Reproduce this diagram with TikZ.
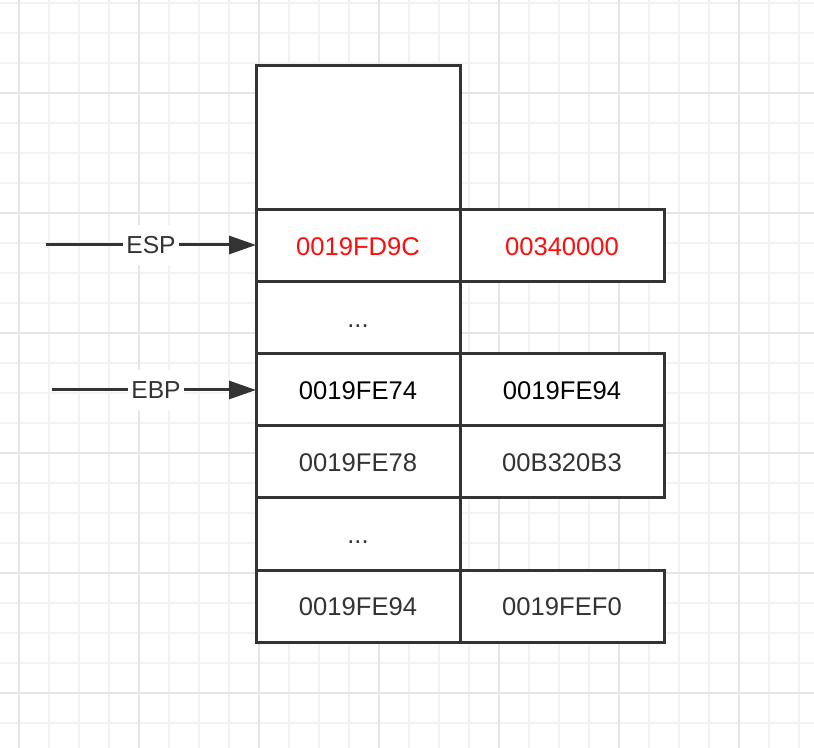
\documentclass[tikz,border=0pt]{standalone}
\usepackage{fontspec}
\setmainfont{Liberation Sans}
\usepackage{xcolor}
\usetikzlibrary{positioning}
\usetikzlibrary{arrows.meta}
\tikzset{>={Triangle[length=13.5pt,width=9pt]}}
\definecolor{inkgray}{HTML}{333333}
\definecolor{gridminor}{HTML}{F2F2F2}
\definecolor{gridmajor}{HTML}{E6E6E6}
\definecolor{hotred}{HTML}{FF0D0D}
\tikzset{
  cell/.style={draw=inkgray, line width=1.5pt, fill=white, outer sep=0pt,
    minimum width=102pt, minimum height=36pt, inner sep=0pt,
    text height=9.2pt, text depth=0pt,
    text=inkgray, font=\fontsize{12.8}{15}\selectfont},
  regname/.style={fill=white, text=inkgray, inner sep=1.5pt, minimum height=20pt,
    font=\fontsize{12.3}{15}\selectfont},
  pointer/.style={->, draw=inkgray, line width=1.5pt},
  minorgrid/.style={draw=gridminor, line width=1pt},
  majorgrid/.style={draw=gridmajor, line width=1pt}
}

\begin{document}
\begin{tikzpicture}[x=0.5pt,y=-0.5pt]
\useasboundingbox[fill=white] (0,0) rectangle (814,748);
% background grid
\foreach \x in {19,49,...,799} \draw[minorgrid] (\x,0) -- (\x,748);
\foreach \y in {3,33,...,723} \draw[minorgrid] (0,\y) -- (814,\y);
\foreach \x in {19,139,...,739} \draw[majorgrid] (\x,0) -- (\x,748);
\foreach \y in {93,213,...,693} \draw[majorgrid] (0,\y) -- (814,\y);

% stack, left column
\node[cell, minimum height=72pt] (top) at (358,138){};
\node[cell, below=0pt of top, text=hotred] (espl){0019FD9C};
\node[cell, below=0pt of espl] (gapa){...};
\node[cell, below=0pt of gapa, text=black] (ebpl){0019FE74};
\node[cell, below=0pt of ebpl] (retl){0019FE78};
\node[cell, below=0pt of retl] (gapb){...};
\node[cell, below=0pt of gapb] (oldl){0019FE94};

% stack, right column
\node[cell, right=0pt of espl, text=hotred] (espr){00340000};
\node[cell, right=0pt of ebpl, text=black] (ebpr){0019FE94};
\node[cell, right=0pt of retl] (retr){00B320B3};
\node[cell, right=0pt of oldl] (oldr){0019FEF0};

% register pointers
\coordinate (espfrom) at (46,245);
\coordinate (ebpfrom) at (52,390);
\draw[pointer] (espfrom) -- node[regname, pos=0.5]{ESP} (espfrom -| espl.west);
\draw[pointer] (ebpfrom) -- node[regname, pos=0.51]{EBP} (ebpfrom -| ebpl.west);
\end{tikzpicture}
\end{document}
